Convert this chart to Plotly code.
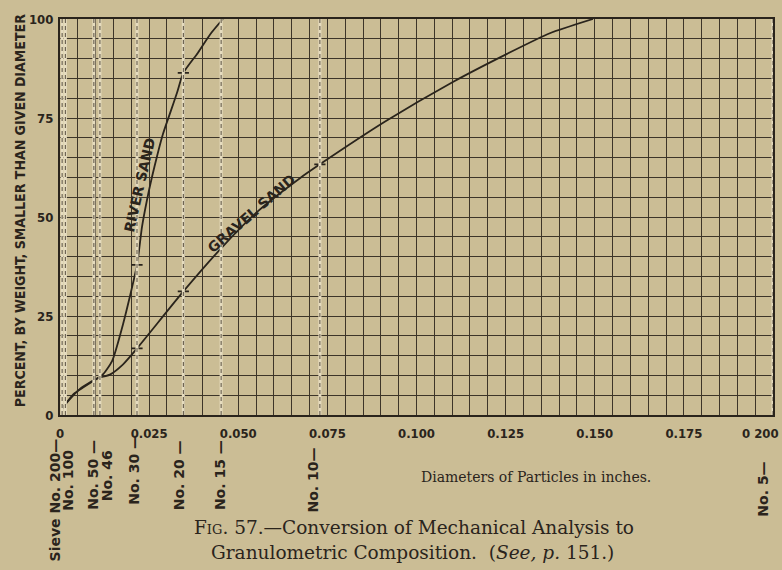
import plotly.graph_objects as go

# ---- data ----
river_x = [0.0006, 0.0036, 0.0104, 0.0121, 0.0146, 0.0177, 0.0216, 0.0230, 0.0244, 0.0258, 0.0272, 0.0289, 0.0309, 0.0328, 0.0346, 0.0387, 0.0421, 0.0457]
river_y = [1.5, 5.1, 9.2, 10.3, 13.6, 23.0, 37.9, 47.5, 54.3, 60.1, 65.3, 71.0, 76.3, 81.3, 86.4, 91.5, 96.1, 100.0]

gravel_x = [0.0006, 0.0056, 0.0104, 0.0140, 0.0177, 0.0216, 0.0346, 0.0457, 0.0553, 0.0673, 0.0729, 0.0912, 0.1102, 0.1254, 0.1374, 0.1495]
gravel_y = [1.8, 6.6, 9.2, 10.2, 12.8, 16.8, 31.2, 42.6, 51.3, 59.8, 63.3, 74.1, 84.1, 91.2, 96.4, 100.0]

sieve_names = ["Sieve No. 200—", "No. 100", "No. 50 —", "No. 46", "No. 30 —", "No. 20 —", "No. 15 —", "No. 10—", "No. 5—"]
sieve_sizes = [0.0006, 0.0015, 0.0095, 0.0112, 0.0216, 0.0346, 0.0452, 0.0729, 0.2000]

river_mark_x = [0.0216, 0.0346]
river_mark_y = [37.9, 86.4]
gravel_mark_x = [0.0216, 0.0346, 0.0729]
gravel_mark_y = [16.8, 31.2, 63.3]

x_tickvals = [0, 0.025, 0.050, 0.075, 0.100, 0.125, 0.150, 0.175, 0.200]
x_ticktext = ["0", "0.025", "0.050", "0.075", "0.100", "0.125", "0.150", "0.175", "0 200"]
y_tickvals = [0, 25, 50, 75, 100]
y_ticktext = ["0", "25", "50", "75", "100"]

# ---- styling ----
PAPER = "#cbbd95"
INK = "#2a241c"
GRID = "#3d3529"
SANS = "DejaVu Sans Condensed, Liberation Sans Narrow, DejaVu Sans, sans-serif"
WIDE = "DejaVu Sans, Liberation Sans, sans-serif"
SERIF = "DejaVu Serif, Liberation Serif, serif"
TICKFONT = dict(family=SANS, size=13, color=INK, weight="bold")

fig = go.Figure()

# sieve reference lines (pale line with dark dashes)
for s in sieve_sizes:
    fig.add_shape(type="line", xref="x", yref="paper", x0=s, x1=s, y0=0, y1=1,
                  line=dict(color="#e6dcbf", width=3), layer="above")
    fig.add_shape(type="line", xref="x", yref="paper", x0=s, x1=s, y0=0, y1=1,
                  line=dict(color="#5a5040", width=1, dash="4px,3px"), layer="above")

fig.add_trace(go.Scatter(x=river_x, y=river_y, mode="lines", line=dict(color=INK, width=1.8, shape="spline", smoothing=0.6),
                         showlegend=False, hoverinfo="skip"))
fig.add_trace(go.Scatter(x=gravel_x, y=gravel_y, mode="lines", line=dict(color=INK, width=1.8, shape="spline", smoothing=0.6),
                         showlegend=False, hoverinfo="skip"))
fig.add_trace(go.Scatter(x=river_mark_x + gravel_mark_x, y=river_mark_y + gravel_mark_y, mode="markers",
                         marker=dict(symbol="cross-thin", size=8, line=dict(color=INK, width=1.8)),
                         showlegend=False, hoverinfo="skip"))

axis_common = dict(showline=True, linecolor=INK, linewidth=2, mirror=True, zeroline=False,
                   gridcolor=GRID, gridwidth=1.3, ticks="", automargin=False, tickfont=TICKFONT)

# last x tick label is drawn as an annotation so it stays inside the page
fig.update_xaxes(range=[0, 0.2], tickvals=x_tickvals[:-1], ticktext=x_ticktext[:-1], ticklabelstandoff=5,
                 minor=dict(dtick=0.005, showgrid=True, gridcolor=GRID, gridwidth=1.3), **axis_common)
fig.update_yaxes(range=[0, 100], tickvals=y_tickvals, ticktext=y_ticktext, ticklabelstandoff=2,
                 minor=dict(dtick=5, showgrid=True, gridcolor=GRID, gridwidth=1.3), **axis_common)

ann = []
ann.append(dict(text=x_ticktext[-1], x=x_tickvals[-1], y=0, xref="x", yref="paper", xanchor="right",
                yanchor="top", xshift=8, yshift=-9, showarrow=False, font=TICKFONT))

# sieve labels
label_xshift = [-7, 3, -1, 7, -3, -4, -1, -7, -10]
label_top = [-0.055, -0.083, -0.058, -0.083, -0.045, -0.058, -0.058, -0.076, -0.114]
for name, s, dx, yt in zip(sieve_names, sieve_sizes, label_xshift, label_top):
    ann.append(dict(text=name, x=s, y=yt, xref="x", yref="paper", textangle=-90,
                    xanchor="center", yanchor="top", xshift=dx, showarrow=False,
                    font=dict(family=WIDE, size=14, color=INK, weight="bold")))

# curve labels
ann.append(dict(text="RIVER SAND", x=0.0224, y=58, xref="x", yref="y", textangle=-77, showarrow=False,
                xanchor="center", yanchor="middle",
                font=dict(family=WIDE, size=14, color=INK, weight="bold")))
ann.append(dict(text="GRAVEL SAND", x=0.0538, y=51, xref="x", yref="y", textangle=-41, showarrow=False,
                xanchor="center", yanchor="middle",
                font=dict(family=WIDE, size=14, color=INK, weight="bold")))

# y axis title
ann.append(dict(text="PERCENT, BY WEIGHT, SMALLER THAN GIVEN DIAMETER", x=-0.056, y=0.515,
                xref="paper", yref="paper", textangle=-90, showarrow=False,
                xanchor="center", yanchor="middle",
                font=dict(family=SANS, size=14, color=INK, weight="bold")))
# x axis title
ann.append(dict(text="Diameters of Particles in inches.", x=0.667, y=-0.157, xref="paper", yref="paper",
                xanchor="center", yanchor="middle",
                showarrow=False, font=dict(family=SERIF, size=14, color=INK)))
# caption
ann.append(dict(text="F<span style='font-size:13px'>IG</span>. 57.—Conversion of Mechanical Analysis to",
                x=0.497, y=-0.285, xref="paper", yref="paper", showarrow=False,
                xanchor="center", yanchor="middle",
                font=dict(family=SERIF, size=18.5, color=INK)))
ann.append(dict(text="Granulometric Composition.  (<i>See, p.</i> 151.)",
                x=0.494, y=-0.346, xref="paper", yref="paper", showarrow=False,
                xanchor="center", yanchor="middle",
                font=dict(family=SERIF, size=18.5, color=INK)))

fig.update_layout(width=782, height=570, margin=dict(l=60, r=9, t=19, b=155, autoexpand=False),
                  paper_bgcolor=PAPER, plot_bgcolor=PAPER, annotations=ann, showlegend=False)

fig.write_html("out.html", config={"displayModeBar": False},
               post_script="document.body.style.margin='0';document.body.style.overflow='hidden';"
                           "document.body.style.background='#cbbd95';")
